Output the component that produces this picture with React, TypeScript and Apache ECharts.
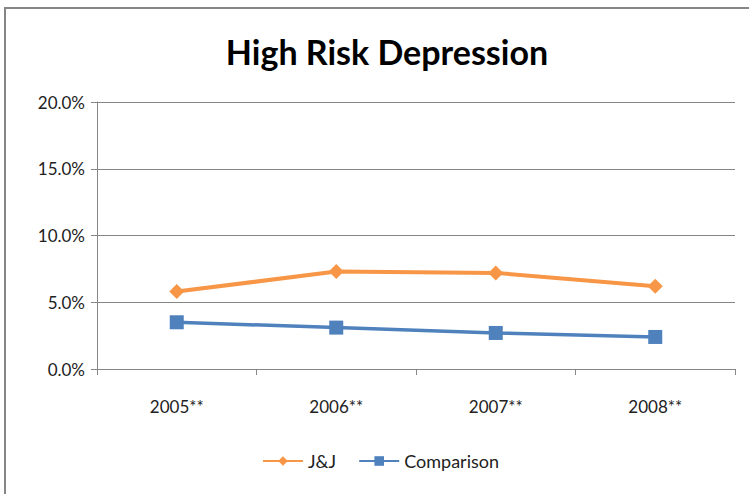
import React, { useEffect, useRef } from "react";
import * as echarts from "echarts";

const categories = ["2005**", "2006**", "2007**", "2008**"];
const jjValues = [5.8, 7.3, 7.2, 6.2];
const comparisonValues = [3.5, 3.1, 2.7, 2.4];
const yMin = 0;
const yMax = 20;
const yInterval = 5;

export default function App() {
  const ref = useRef<HTMLDivElement>(null);
  useEffect(() => {
    if (!ref.current) return;
    const chart = echarts.init(ref.current, null, { renderer: "svg" });
    const font = "Lato, 'Open Sans', sans-serif";
    chart.setOption({
      animation: false,
      backgroundColor: "#ffffff",
      title: {
        text: "High Risk Depression",
        left: 382,
        textAlign: "center",
        top: 29,
        textStyle: { fontFamily: font, fontSize: 34, fontWeight: "bold", color: "#000000" },
      },
      graphic: [
        {
          type: "rect",
          shape: { x: 5, y: 8, width: 900, height: 700 },
          style: { fill: "none", stroke: "#868686", lineWidth: 2 },
          silent: true,
        },
      ],
      grid: { left: 97, right: 14, top: 102, bottom: 125, containLabel: false },
      legend: {
        bottom: 19,
        left: 257,
        itemWidth: 40,
        itemHeight: 12,
        itemGap: 22,
        textStyle: { fontFamily: font, fontSize: 18, color: "#222" },
        data: ["J&J", "Comparison"],
      },
      xAxis: {
        type: "category",
        data: categories,
        boundaryGap: true,
        axisLine: { lineStyle: { color: "#868686", width: 1 } },
        axisTick: { show: true, length: 6, inside: false, lineStyle: { color: "#868686" } },
        axisLabel: { fontFamily: font, fontSize: 17, color: "#222", margin: 29 },
      },
      yAxis: {
        type: "value",
        min: yMin,
        max: yMax,
        interval: yInterval,
        axisLine: { show: true, lineStyle: { color: "#868686", width: 1 } },
        axisTick: { show: true, length: 6, lineStyle: { color: "#868686" } },
        splitLine: { show: true, lineStyle: { color: "#868686", width: 1 } },
        axisLabel: {
          fontFamily: font,
          fontSize: 17,
          color: "#222",
          margin: 12,
          formatter: (v: number) => v.toFixed(1) + "%",
        },
      },
      series: [
        {
          name: "J&J",
          type: "line",
          data: jjValues,
          symbol: "diamond",
          symbolSize: 15,
          color: "#F79646",
          lineStyle: { width: 4, color: "#F79646" },
          itemStyle: { color: "#F79646" },
        },
        {
          name: "Comparison",
          type: "line",
          data: comparisonValues,
          symbol: "rect",
          symbolSize: 14,
          color: "#4F81BD",
          lineStyle: { width: 3.5, color: "#4F81BD" },
          itemStyle: { color: "#4F81BD" },
        },
      ],
    });
    return () => chart.dispose();
  }, []);
  return <div ref={ref} style={{ width: 749, height: 494, position: "absolute", left: 0, top: 0 }} />;
}
